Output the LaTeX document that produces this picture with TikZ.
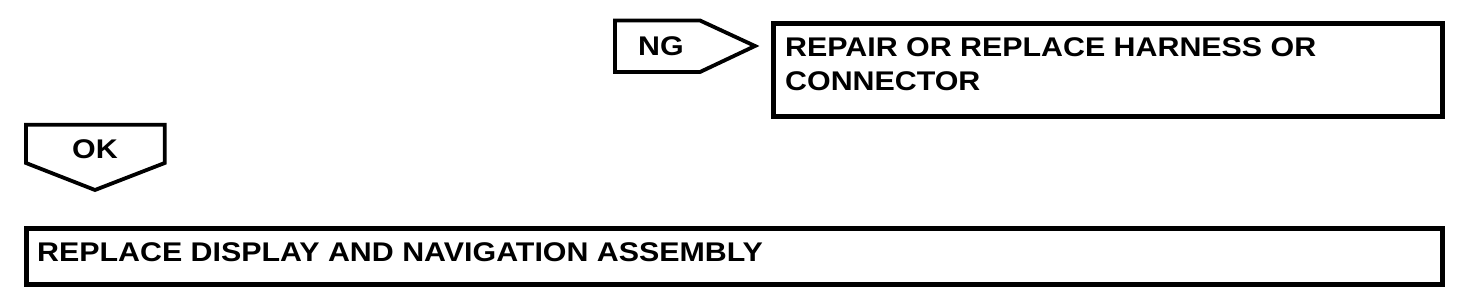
\documentclass[tikz,border=0pt]{standalone}
\usepackage{fontspec}
\setmainfont{Liberation Sans}[FakeStretch=1.125]
\begin{document}
\begin{tikzpicture}[x=1pt,y=-1pt,
  boxframe/.style={draw=black,line width=5pt,fill=white},
  arrowframe/.style={draw=black,line width=3.8pt,line join=miter,fill=white},
  lbl/.style={font=\fontsize{27}{34}\selectfont\bfseries,inner sep=0pt,text=black}]
\useasboundingbox (0,0) rectangle (1472,296);
% NG arrow
\draw[arrowframe] (615,20.5) coordinate (ngA) -- (700,20.5) -- (755,46) coordinate (ngtip) -- (700,72) -- (615,72) -- cycle;
\node[lbl,anchor=center] (ng) at (661,46) {NG};
% Repair box
\node[boxframe,anchor=north west,minimum width=669pt,minimum height=93pt,inner sep=0pt] (repairbox) at (771,21) {};
\node[lbl,anchor=base west,align=left] (repairtxt) at (785,57) {REPAIR OR REPLACE HARNESS OR};
\node[lbl,anchor=base west,align=left] (conntxt) at (785,91) {CONNECTOR};
% OK arrow
\draw[arrowframe] (26,124.7) -- (164.7,124.7) -- (164.7,163) -- (95,190) coordinate (oktip) -- (26,163) -- cycle;
\node[lbl,anchor=center] (ok) at (95,149) {OK};
% Replace box
\node[boxframe,anchor=north west,minimum width=1416pt,minimum height=56pt,inner sep=0pt] (replacebox) at (24,226.5) {};
\node[lbl,anchor=base west] (replacetxt) at (37,262) {REPLACE DISPLAY AND NAVIGATION ASSEMBLY};
\end{tikzpicture}
\end{document}
